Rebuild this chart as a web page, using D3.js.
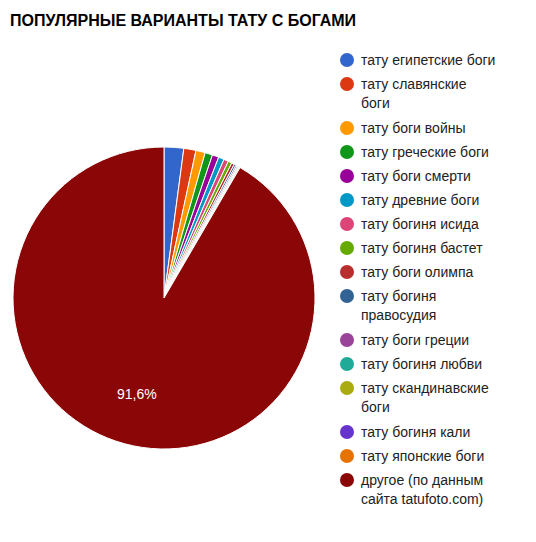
<!DOCTYPE html>
<html><head><meta charset="utf-8">
<script src="https://cdnjs.cloudflare.com/ajax/libs/d3/7.8.5/d3.min.js"></script>
<style>body{margin:0;background:#fff;font-family:Arial,"Liberation Sans",sans-serif}</style>
</head><body>
<svg id="c" width="536" height="542"></svg>
<script>
var labels = [
  ["тату египетские боги"], ["тату славянские", "боги"], ["тату боги войны"],
  ["тату греческие боги"], ["тату боги смерти"], ["тату древние боги"],
  ["тату богиня исида"], ["тату богиня бастет"], ["тату боги олимпа"],
  ["тату богиня", "правосудия"], ["тату боги греции"], ["тату богиня любви"],
  ["тату скандинавские", "боги"], ["тату богиня кали"], ["тату японские боги"],
  ["другое (по данным", "сайта tatufoto.com)"]
];
var values = [2.1, 1.3, 1.0, 0.8, 0.7, 0.6, 0.5, 0.4, 0.3, 0.2, 0.15, 0.12, 0.1, 0.08, 0.05, 91.6];
var colors = ["#3366cc","#dc3912","#ff9900","#109618","#990099","#0099c6","#dd4477","#66aa00",
  "#b82e2e","#316395","#994499","#22aa99","#aaaa11","#6633cc","#e67300","#8b0707"];

var svg = d3.select("#c");
svg.append("text").attr("x", 10).attr("y", 26).attr("font-size", 16).attr("font-weight", "bold")
  .text("ПОПУЛЯРНЫЕ ВАРИАНТЫ ТАТУ С БОГАМИ");

var cx = 164, cy = 298, r = 151;
var pie = d3.pie().sort(null)(values);
var arc = d3.arc().innerRadius(0).outerRadius(r);
var g = svg.append("g").attr("transform", "translate(" + cx + "," + cy + ")");
g.selectAll("path").data(pie).enter().append("path")
  .attr("d", arc).attr("fill", function(d, i) { return colors[i]; })
  .attr("stroke", "#fff").attr("stroke-width", 1);

var big = pie[pie.length - 1];
var lab = d3.arc().innerRadius(0).outerRadius(r * 1.38).centroid(big);
g.append("text").attr("x", lab[0]).attr("y", lab[1]).attr("text-anchor", "middle")
  .attr("fill", "#fff").attr("font-size", 14).text("91,6%");

var y = 60;
labels.forEach(function(l, i) {
  var lg = svg.append("g");
  lg.append("circle").attr("cx", 347).attr("cy", y).attr("r", 7).attr("fill", colors[i]);
  l.forEach(function(t, j) {
    lg.append("text").attr("x", 361).attr("y", y + 5 + j * 19).attr("font-size", 14)
      .attr("fill", "#222").text(t);
  });
  y += 24 + (l.length - 1) * 20;
});
</script>
</body></html>
